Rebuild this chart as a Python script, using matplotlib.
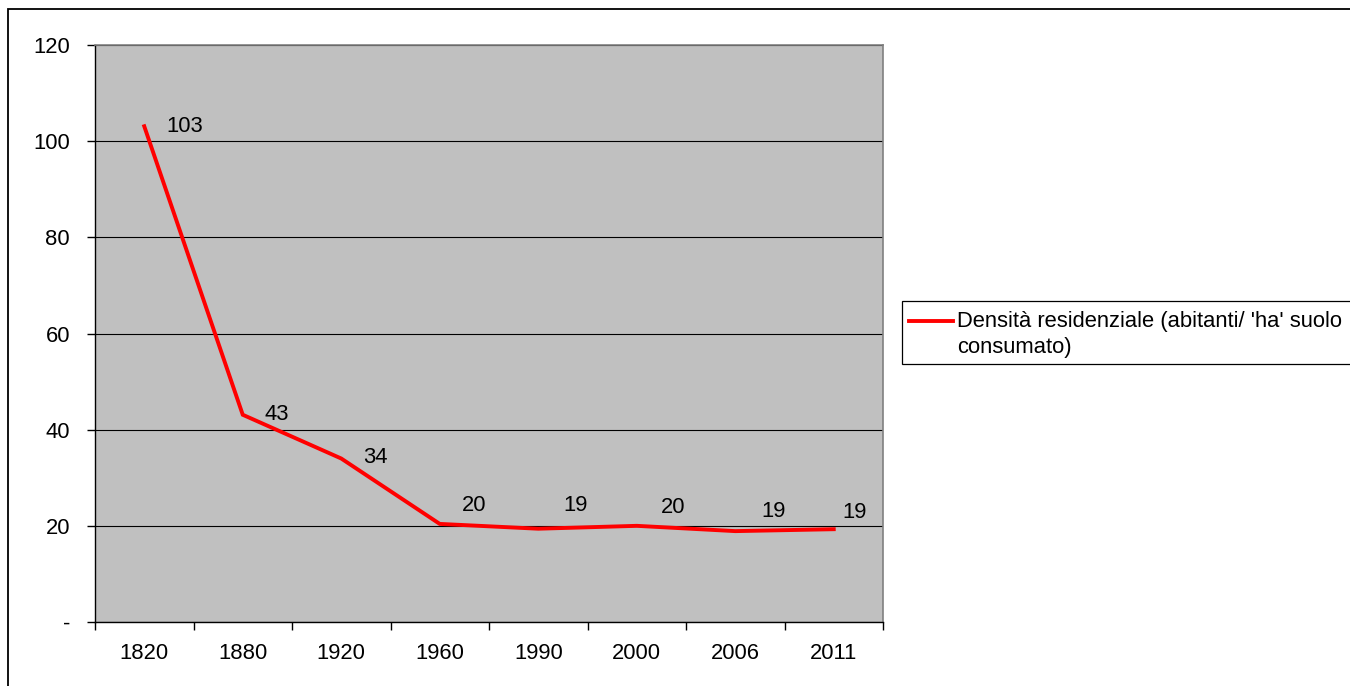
import matplotlib
matplotlib.use("Agg")
import matplotlib.pyplot as plt
from matplotlib.patches import Rectangle
from matplotlib.lines import Line2D
import numpy as np

plt.rcParams['font.family'] = ['Liberation Sans', 'DejaVu Sans']

years = ["1820", "1880", "1920", "1960", "1990", "2000", "2006", "2011"]
density = [103.1, 43.1, 34.0, 20.4, 19.4, 20.0, 18.9, 19.3]
series_name = "Densità residenziale (abitanti/ 'ha' suolo\nconsumato)"
y_ticks = [0, 20, 40, 60, 80, 100, 120]
y_tick_labels = ["-", "20", "40", "60", "80", "100", "120"]

# label offsets in pixels (dx, dy) relative to each point
label_offsets = [(41, 0), (34, 0), (34, 1), (34, 18), (37, 23), (36, 18), (38, 20), (21, 17)]

FS = 15.8
LINE_COLOR = "#FF0000"
W, H = 1350, 686
fig = plt.figure(figsize=(W / 100, H / 100), dpi=100)
fig.patch.set_facecolor("white")

# outer chart frame
fig.patches.append(Rectangle((8 / W, -0.1), 1.2, 1 - 9 / H + 0.1,
                             transform=fig.transFigure, fill=False,
                             edgecolor="black", linewidth=1.3))

ax = fig.add_axes([95 / W, 1 - 622 / H, 788 / W, 577 / H])
ax.set_facecolor("#C0C0C0")

x = np.arange(len(years))
line, = ax.plot(x, density, color=LINE_COLOR, linewidth=2.8, solid_joinstyle="miter",
                label=series_name, zorder=3)

for xi, yi, (dx, dy) in zip(x, density, label_offsets):
    ax.annotate(f"{yi:.0f}", (xi, yi), xytext=(dx * 0.72, dy * 0.72),
                textcoords="offset points", ha="center", va="center",
                fontsize=FS, color="black", zorder=4)

ax.set_xlim(-0.5, len(years) - 0.5)
ax.set_ylim(0, 120)
ax.set_yticks(y_ticks)
ax.set_yticklabels(y_tick_labels, fontsize=FS)
ax.yaxis.grid(True, color="#000000", linewidth=0.8)
ax.set_axisbelow(True)

# category labels centred, tick marks between categories
ax.set_xticks(x)
ax.set_xticklabels(years, fontsize=FS)
ax.tick_params(axis="x", which="major", length=0, pad=15)
ax.set_xticks(np.arange(-0.5, len(years), 1.0), minor=True)
ax.tick_params(axis="x", which="minor", length=6, width=1, color="black", direction="out")
ax.tick_params(axis="y", length=6, width=1, direction="out", pad=12)

for side in ["top", "right"]:
    ax.spines[side].set_color("#808080")
    ax.spines[side].set_linewidth(1.2)
for side in ["left", "bottom"]:
    ax.spines[side].set_color("black")
    ax.spines[side].set_linewidth(1.0)

# legend: box running past the right edge, key aligned with the first text line
fig.patches.append(Rectangle((902 / W, 1 - 364 / H), 0.5, 63 / H,
                             transform=fig.transFigure, facecolor="white",
                             edgecolor="black", linewidth=0.9, zorder=1))
fig.lines.append(Line2D([909 / W, 953 / W], [1 - 321 / H, 1 - 321 / H],
                        transform=fig.transFigure, color=LINE_COLOR,
                        linewidth=2.8, zorder=2))
fig.text(957 / W, 1 - 311.5 / H, line.get_label(), fontsize=FS,
         ha="left", va="top", linespacing=1.3, zorder=3)

fig.savefig("out.png", dpi=100, facecolor="white")
